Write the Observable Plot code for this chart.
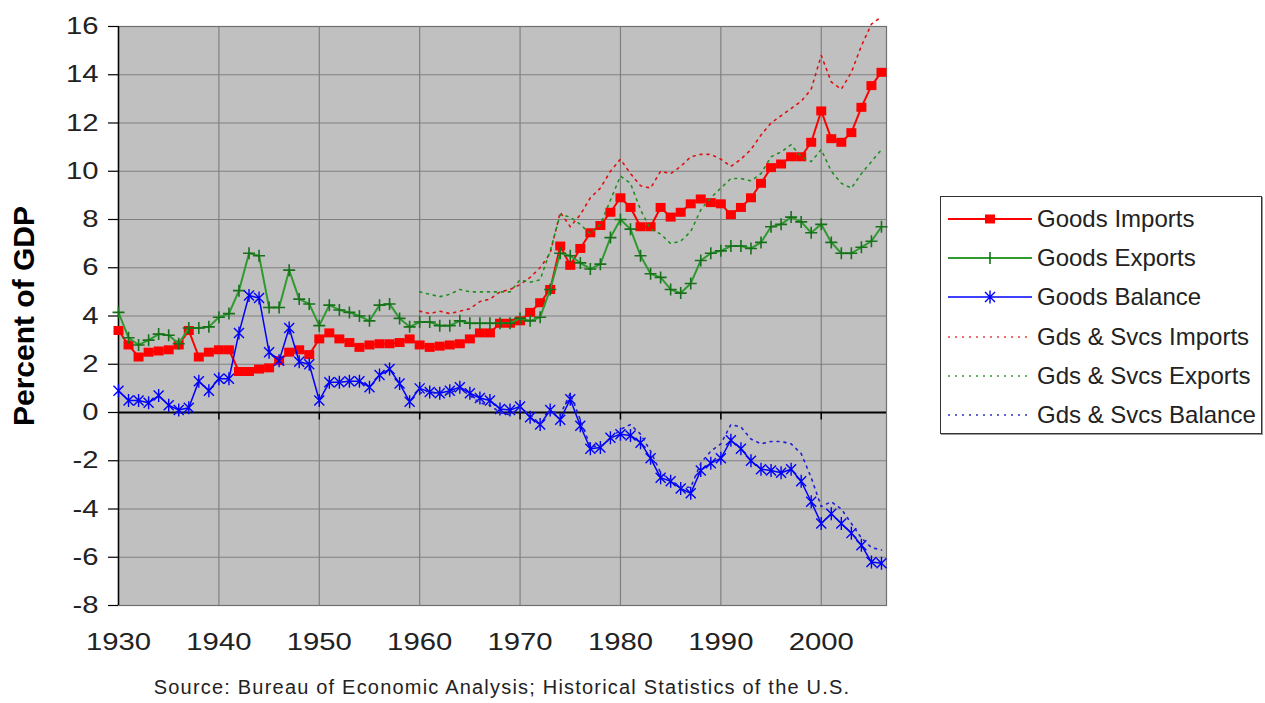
<!DOCTYPE html>
<html><head><meta charset="utf-8">
<script src="https://cdn.jsdelivr.net/npm/d3@7"></script>
<script src="https://cdn.jsdelivr.net/npm/@observablehq/plot@0.6"></script>
<style>
body{margin:0;background:#fff;font-family:"Liberation Sans",Arial,sans-serif;}
#wrap{position:relative;width:1265px;height:703px;overflow:hidden;background:#fff;}
#chart svg{display:block;}
#legend{position:absolute;left:940px;top:196px;width:322px;height:238px;border:1px solid #333;box-sizing:border-box;background:#fff;box-shadow:1px 1px 0 #999;}
.row{position:absolute;left:0;height:30px;display:flex;align-items:center;white-space:nowrap;}
.row svg{margin-left:7px;display:block;}
.row span{font-size:24px;color:#222;margin-left:5px;}
#caption{position:absolute;left:0;width:1004px;top:676px;text-align:center;font-size:20px;letter-spacing:1.2px;color:#222;white-space:nowrap;}
</style></head>
<body><div id="wrap"><div id="chart"></div><div id="legend"></div><div id="caption"></div></div>
<script>
// ---- data (percent of GDP) ----
const years = [1930,1931,1932,1933,1934,1935,1936,1937,1938,1939,
1940,1941,1942,1943,1944,1945,1946,1947,1948,1949,
1950,1951,1952,1953,1954,1955,1956,1957,1958,1959,
1960,1961,1962,1963,1964,1965,1966,1967,1968,1969,
1970,1971,1972,1973,1974,1975,1976,1977,1978,1979,
1980,1981,1982,1983,1984,1985,1986,1987,1988,1989,
1990,1991,1992,1993,1994,1995,1996,1997,1998,1999,
2000,2001,2002,2003,2004,2005,2006];

const goodsImports = [3.4,2.8,2.3,2.5,2.55,2.6,2.8,3.4,2.3,2.5,
2.6,2.6,1.7,1.7,1.8,1.85,2.15,2.5,2.6,2.4,
3.05,3.3,3.05,2.9,2.7,2.8,2.85,2.85,2.9,3.05,
2.8,2.7,2.75,2.8,2.85,3.05,3.3,3.3,3.7,3.7,
3.8,4.15,4.55,5.1,6.9,6.1,6.8,7.45,7.75,8.3,
8.9,8.5,7.7,7.7,8.5,8.1,8.3,8.65,8.85,8.7,
8.65,8.2,8.5,8.9,9.5,10.15,10.3,10.6,10.6,11.2,
12.5,11.35,11.2,11.6,12.65,13.55,14.1];

const goodsExports = [4.15,3.1,2.8,3.0,3.25,3.2,2.85,3.5,3.5,3.55,
3.95,4.1,5.05,6.6,6.5,4.35,4.35,5.9,4.7,4.5,
3.6,4.45,4.25,4.15,4.0,3.8,4.45,4.5,3.9,3.55,
3.75,3.75,3.6,3.6,3.8,3.7,3.7,3.7,3.7,3.7,
3.9,3.8,3.95,5.1,6.6,6.5,6.2,5.95,6.15,7.25,
8.0,7.6,6.5,5.75,5.6,5.1,4.95,5.35,6.3,6.6,
6.7,6.9,6.9,6.8,7.05,7.7,7.8,8.1,7.9,7.45,
7.8,7.05,6.6,6.6,6.85,7.1,7.7];

const goodsBalance = [0.9,0.5,0.5,0.4,0.7,0.3,0.1,0.2,1.3,0.9,
1.4,1.4,3.3,4.85,4.75,2.5,2.15,3.5,2.1,2.0,
0.5,1.25,1.25,1.3,1.3,1.05,1.55,1.8,1.2,0.45,
1.0,0.85,0.8,0.9,1.05,0.8,0.6,0.5,0.15,0.1,
0.25,-0.2,-0.5,0.1,-0.3,0.55,-0.55,-1.5,-1.45,-1.05,
-0.9,-0.95,-1.25,-1.9,-2.7,-2.85,-3.15,-3.35,-2.4,-2.1,
-1.9,-1.15,-1.5,-2.0,-2.35,-2.4,-2.5,-2.35,-2.85,-3.7,
-4.6,-4.2,-4.6,-5.0,-5.5,-6.2,-6.25];

// goods & services series start in 1960
const gsYears = years.slice(30);
const gsImports = [4.2,4.1,4.2,4.1,4.2,4.3,4.6,4.7,5.0,5.1,
5.3,5.6,6.0,6.6,8.3,7.7,8.2,8.9,9.3,10.0,
10.5,9.9,9.4,9.3,10.0,9.9,10.2,10.6,10.7,10.7,
10.5,10.2,10.5,10.9,11.5,12.0,12.3,12.6,12.9,13.4,
14.8,13.7,13.4,14.1,15.2,16.1,16.4];
const gsExports = [5.0,4.9,4.8,4.9,5.1,5.0,5.0,5.0,5.0,5.0,
5.5,5.4,5.5,6.7,8.2,8.1,7.8,7.4,7.8,8.8,
9.8,9.5,8.4,7.6,7.4,7.0,7.1,7.5,8.4,8.9,
9.3,9.7,9.7,9.6,9.9,10.6,10.8,11.1,10.6,10.4,
10.9,10.0,9.5,9.3,9.9,10.4,10.9];
const gsBalance = [0.8,0.9,0.7,0.8,1.0,0.7,0.4,0.3,0.0,-0.1,
0.2,-0.1,-0.5,0.1,-0.1,0.8,-0.3,-1.4,-1.4,-1.1,
-0.7,-0.5,-0.9,-1.6,-2.5,-2.8,-3.1,-3.1,-2.1,-1.6,
-1.3,-0.5,-0.6,-1.1,-1.3,-1.2,-1.2,-1.3,-1.7,-2.7,
-3.9,-3.7,-4.0,-4.6,-5.2,-5.6,-5.7];

const xTicks = [1930,1940,1950,1960,1970,1980,1990,2000];
const yTicks = [-8,-6,-4,-2,0,2,4,6,8,10,12,14,16];
const seriesNames = ["Goods Imports","Goods Exports","Goods Balance","Gds & Svcs Imports","Gds & Svcs Exports","Gds & Svcs Balance"];
const sourceText = "Source: Bureau of Economic Analysis; Historical Statistics of the U.S.";
const yTitle = "Percent of GDP";

// ---- tables ----
const goods = years.map((year, i) => ({year, imports: goodsImports[i], exports: goodsExports[i], balance: goodsBalance[i]}));
const gs = gsYears.map((year, i) => ({year, imports: gsImports[i], exports: gsExports[i], balance: gsBalance[i]}));

// ---- styles ----
const RED = "#ff0000", GREEN = "#2f9a2f", GREEN_M = "#17701a", BLUE = "#0000ff";
const squareSym = {draw(c){ c.rect(-5, -4.5, 10, 9); }};
const plusSym = {draw(c){ c.moveTo(-6,0); c.lineTo(6,0); c.moveTo(0,-6); c.lineTo(0,6); }};
const starSym = {draw(c){ c.moveTo(-5,-5); c.lineTo(5,5); c.moveTo(-5,5); c.lineTo(5,-5); c.moveTo(0,-6.5); c.lineTo(0,6.5); }};
const tickDown = {draw(c){ c.moveTo(0,0); c.lineTo(0,7); }};
const DASH = "2,5";

const chart = Plot.plot({
  width: 1265, height: 703,
  marginLeft: 118, marginRight: 379, marginTop: 26, marginBottom: 98,
  style: {fontFamily: "'Liberation Sans', Arial, sans-serif", background: "transparent", color: "#222", overflow: "visible"},
  x: {domain: [1930, 2006.5], label: null},
  y: {domain: [-8, 16], label: null},
  marks: [
    Plot.frame({fill: "#c0c0c0", stroke: null}),
    Plot.gridY(yTicks, {stroke: "#808080", strokeOpacity: 1, strokeWidth: 1.2}),
    Plot.gridX(xTicks.slice(1), {stroke: "#808080", strokeOpacity: 1, strokeWidth: 1.2}),
    Plot.frame({stroke: "#707070", strokeWidth: 1.2}),
    Plot.ruleY([0], {stroke: "#000", strokeWidth: 2}),
    Plot.ruleX([1930], {stroke: "#000", strokeWidth: 1.5}),
    Plot.dot(xTicks.slice(1), {x: d => d, y: () => 0, symbol: tickDown, stroke: "#000", fill: "none", strokeWidth: 1.5}),
    Plot.axisY(yTicks, {tickSize: 10, tickPadding: 10, fontSize: 24, stroke: "#000", strokeWidth: 1.2, tickFormat: d => String(d)}),
    Plot.axisX(xTicks, {tickSize: 0, tickPadding: 27, fontSize: 24, tickFormat: d => String(d)}),
    Plot.text([yTitle], {frameAnchor: "left", textAnchor: "middle", lineAnchor: "middle", dx: -94, rotate: -90, fontSize: 30, fontWeight: "bold", fill: "#000"}),
    // goods series
    Plot.line(goods, {x: "year", y: "imports", stroke: RED, strokeWidth: 2}),
    Plot.dot(goods, {x: "year", y: "imports", symbol: squareSym, fill: RED, stroke: "none"}),
    Plot.line(goods, {x: "year", y: "exports", stroke: GREEN, strokeWidth: 2}),
    Plot.dot(goods, {x: "year", y: "exports", symbol: plusSym, fill: "none", stroke: GREEN_M, strokeWidth: 1.6}),
    Plot.line(goods, {x: "year", y: "balance", stroke: BLUE, strokeWidth: 1.5}),
    Plot.dot(goods, {x: "year", y: "balance", symbol: starSym, fill: "none", stroke: BLUE, strokeWidth: 1.4}),
    // goods & services series (dotted)
    Plot.line(gs, {x: "year", y: "imports", stroke: "#e01010", strokeWidth: 1.6, strokeDasharray: DASH}),
    Plot.line(gs, {x: "year", y: "exports", stroke: "#1f8f1f", strokeWidth: 1.6, strokeDasharray: DASH}),
    Plot.line(gs, {x: "year", y: "balance", stroke: "#2020d0", strokeWidth: 1.6, strokeDasharray: DASH})
  ]
});
document.getElementById("chart").appendChild(chart);

// widen tick labels horizontally like the original
chart.querySelectorAll('g[aria-label="y-axis tick label"] text, g[aria-label="x-axis tick label"] text').forEach(t => {
  const tr = t.getAttribute("transform") || "";
  t.setAttribute("transform", tr + " scale(1.22,1)");
});

// ---- legend ----
const legendSamples = [
  `<line x1="0" y1="10" x2="84" y2="10" stroke="${RED}" stroke-width="2"/><rect x="37" y="5.5" width="10" height="9" fill="${RED}"/>`,
  `<line x1="0" y1="10" x2="84" y2="10" stroke="${GREEN}" stroke-width="2"/><path d="M42,4V16" stroke="${GREEN_M}" stroke-width="1.6"/>`,
  `<line x1="0" y1="10" x2="84" y2="10" stroke="${BLUE}" stroke-width="1.5"/><path d="M37,5L47,15M37,15L47,5M42,3.5V16.5" stroke="${BLUE}" stroke-width="1.4"/>`,
  `<line x1="0" y1="10" x2="84" y2="10" stroke="#e04040" stroke-width="1.6" stroke-dasharray="${DASH}"/>`,
  `<line x1="0" y1="10" x2="84" y2="10" stroke="#2f9a2f" stroke-width="1.6" stroke-dasharray="${DASH}"/>`,
  `<line x1="0" y1="10" x2="84" y2="10" stroke="#3030c0" stroke-width="1.6" stroke-dasharray="${DASH}"/>`
];
const legend = document.getElementById("legend");
seriesNames.forEach((name, i) => {
  const row = document.createElement("div");
  row.className = "row";
  row.style.top = (7 + i * 39.2) + "px";
  row.innerHTML = `<svg width="84" height="20">${legendSamples[i]}</svg><span>${name}</span>`;
  legend.appendChild(row);
});
document.getElementById("caption").textContent = sourceText;
</script>
</body></html>
